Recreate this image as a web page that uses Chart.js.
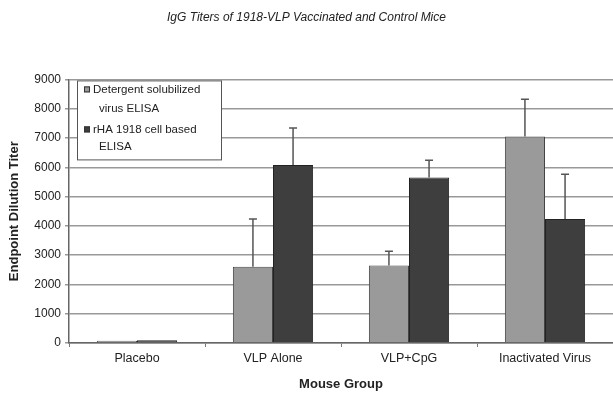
<!DOCTYPE html>
<html>
<head>
<meta charset="utf-8">
<script src="https://cdn.jsdelivr.net/npm/chart.js@4.4.1/dist/chart.umd.min.js"></script>
<style>
  html, body { margin: 0; padding: 0; background: #fff; }
  #wrap { width: 613px; height: 399px; }
</style>
</head>
<body>
<div id="wrap"><canvas id="chart"></canvas></div>
<script>
// mouse groups
var groups = ["Placebo", "VLP Alone", "VLP+CpG", "Inactivated Virus"];

// detergent solubilized virus ELISA
var detergentTiter = [80, 2600, 2650, 7050];
var detergentErr   = [0, 1630, 480, 1270];

// rHA 1918 cell based ELISA
var rhaTiter = [90, 6080, 5650, 4230];
var rhaErr   = [0, 1260, 590, 1530];

var legendLines = [
  ["Detergent solubilized", "virus ELISA"],
  ["rHA 1918 cell based", "ELISA"]
];

var FONT = '"Liberation Sans", Arial, sans-serif';

// error bars (upper only), drawn through the y scale
var errorBars = {
  id: 'errorBars',
  afterDatasetsDraw: function(chart) {
    var ctx = chart.ctx;
    var y = chart.scales.y;
    ctx.save();
    ctx.strokeStyle = '#555';
    ctx.lineWidth = 1.5;
    chart.data.datasets.forEach(function(ds, i) {
      var meta = chart.getDatasetMeta(i);
      meta.data.forEach(function(bar, j) {
        var err = ds.errors[j];
        if (!err) return;
        var top = y.getPixelForValue(ds.data[j] + err);
        ctx.beginPath();
        ctx.moveTo(bar.x, bar.y);
        ctx.lineTo(bar.x, top);
        ctx.moveTo(bar.x - 4, top);
        ctx.lineTo(bar.x + 4, top);
        ctx.stroke();
      });
    });
    ctx.restore();
  }
};

// boxed legend with wrapped labels, top-left inside the plot
var boxLegend = {
  id: 'boxLegend',
  afterDraw: function(chart) {
    var ctx = chart.ctx;
    var a = chart.chartArea;
    var x0 = a.left + 8, y0 = a.top + 1, w = 144, h = 79;
    ctx.save();
    ctx.fillStyle = '#fff';
    ctx.fillRect(x0, y0, w, h);
    ctx.strokeStyle = '#555';
    ctx.lineWidth = 1;
    ctx.strokeRect(x0 + 0.5, y0 + 0.5, w, h);
    ctx.font = '11.5px ' + FONT;
    ctx.textBaseline = 'middle';
    var rows = [[9, 28], [49, 66]];
    chart.data.datasets.forEach(function(ds, i) {
      ctx.fillStyle = ds.backgroundColor;
      ctx.strokeStyle = '#333';
      ctx.fillRect(x0 + 7, y0 + rows[i][0] - 3, 6, 6);
      ctx.strokeRect(x0 + 7.5, y0 + rows[i][0] - 2.5, 5, 5);
      ctx.fillStyle = '#222';
      ctx.fillText(legendLines[i][0], x0 + 16, y0 + rows[i][0]);
      ctx.fillText(legendLines[i][1], x0 + 22, y0 + rows[i][1]);
    });
    ctx.restore();
  }
};

new Chart(document.getElementById("chart"), {
  type: 'bar',
  data: {
    labels: groups,
    datasets: [
      {
        label: "Detergent solubilized virus ELISA",
        data: detergentTiter,
        errors: detergentErr,
        backgroundColor: '#9a9a9a',
        borderColor: '#444',
        borderWidth: 1
      },
      {
        label: "rHA 1918 cell based ELISA",
        data: rhaTiter,
        errors: rhaErr,
        backgroundColor: '#3e3e3e',
        borderColor: '#222',
        borderWidth: 1
      }
    ]
  },
  options: {
    responsive: true,
    maintainAspectRatio: false,
    animation: false,
    layout: { padding: 0 },
    datasets: {
      bar: { categoryPercentage: 0.59, barPercentage: 1.0 }
    },
    plugins: {
      legend: { display: false },
      tooltip: { enabled: false },
      title: {
        display: true,
        text: 'IgG Titers of 1918-VLP Vaccinated and Control Mice',
        color: '#222',
        font: { family: FONT, size: 12, style: 'italic', weight: 'normal' },
        padding: { top: 10, bottom: 55 }
      }
    },
    scales: {
      x: {
        grid: { display: true, offset: true, drawOnChartArea: false, tickLength: 4, color: '#777' },
        border: { color: '#666', width: 1.5 },
        ticks: {
          color: '#222',
          padding: 4,
          font: { family: FONT, size: 12.5 }
        },
        title: {
          display: true,
          text: 'Mouse Group',
          color: '#222',
          font: { family: FONT, size: 13, weight: 'bold' },
          padding: { top: 4, bottom: 7 }
        },
        afterFit: function(s) { s.height = 56; }
      },
      y: {
        min: 0,
        max: 9000,
        ticks: {
          stepSize: 1000,
          color: '#222',
          padding: 4,
          font: { family: FONT, size: 12 },
          callback: function(v) { return String(v); }
        },
        grid: { color: '#999', lineWidth: 1.5, tickLength: 4 },
        border: { color: '#666', width: 1.5 },
        title: {
          display: true,
          text: 'Endpoint Dilution Titer',
          color: '#222',
          font: { family: FONT, size: 13, weight: 'bold' },
          padding: { top: 7, bottom: 2 }
        },
        afterFit: function(s) { s.width = 69; }
      }
    }
  },
  plugins: [errorBars, boxLegend]
});
</script>
</body>
</html>
